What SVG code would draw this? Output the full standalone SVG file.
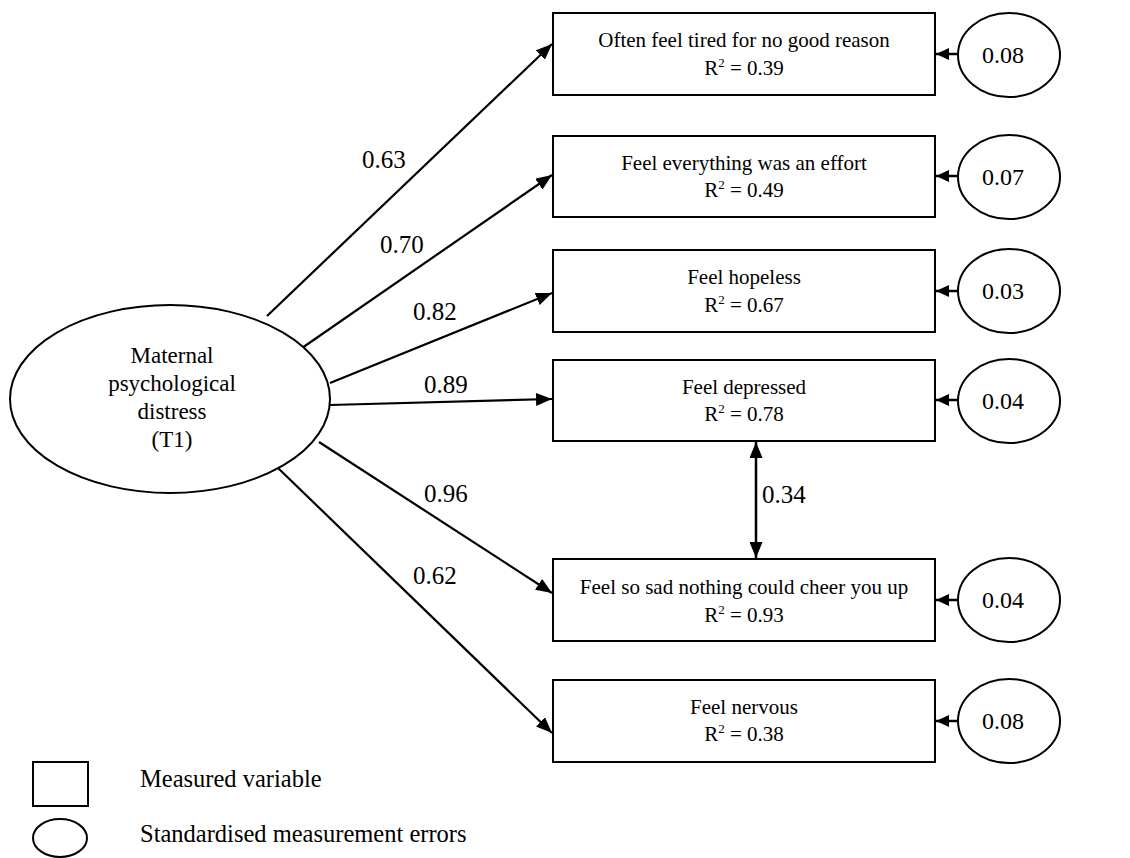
<svg xmlns="http://www.w3.org/2000/svg" width="1130" height="858" viewBox="0 0 1130 858">
  <defs>
    <marker id="arrow" markerUnits="userSpaceOnUse" markerWidth="17" markerHeight="13" refX="16" refY="6.5" orient="auto-start-reverse">
      <path d="M0,0 L16,6.5 L0,13 z" fill="#000"/>
    </marker>
    <marker id="arrowSmall" markerUnits="userSpaceOnUse" markerWidth="14" markerHeight="12" refX="13" refY="6" orient="auto">
      <path d="M0,0 L13,6 L0,12 z" fill="#000"/>
    </marker>
    <style>
      .box { fill: #fff; stroke: #000; stroke-width: 2; }
      .oval { fill: #fff; stroke: #000; stroke-width: 2; }
      .path { stroke: #000; stroke-width: 2.2; fill: none; marker-end: url(#arrow); }
      .err { stroke: #000; stroke-width: 2.5; fill: none; marker-end: url(#arrowSmall); }
      .cov { stroke: #000; stroke-width: 2.5; fill: none; marker-start: url(#arrow); marker-end: url(#arrow); }
      text { font-family: "Liberation Serif", "Times New Roman", serif; fill: #000; }
      .lbl { font-size: 21px; text-anchor: middle; }
      .coef { font-size: 25px; }
      .errv { font-size: 24px; text-anchor: middle; }
      .lat { font-size: 23px; text-anchor: middle; }
      .leg { font-size: 24.5px; }
    </style>
  </defs>

  <!-- Factor loadings, error paths and the residual covariance -->
  <g id="connectors">
    <line class="path" x1="267" y1="316" x2="552" y2="44"/>
    <line class="path" x1="302" y1="348" x2="552" y2="175"/>
    <line class="path" x1="330" y1="383" x2="552" y2="293"/>
    <line class="path" x1="330" y1="405" x2="552" y2="399"/>
    <line class="path" x1="319" y1="442" x2="552" y2="593"/>
    <line class="path" x1="278" y1="468" x2="552" y2="733"/>

    <line class="err" x1="958" y1="54" x2="936" y2="54"/>
    <line class="err" x1="958" y1="176" x2="936" y2="176"/>
    <line class="err" x1="958" y1="291" x2="936" y2="291"/>
    <line class="err" x1="958" y1="400" x2="936" y2="400"/>
    <line class="err" x1="958" y1="600" x2="936" y2="600"/>
    <line class="err" x1="958" y1="721" x2="936" y2="721"/>

    <line class="cov" x1="756" y1="442" x2="756" y2="558"/>

    <text class="coef" x="362" y="168">0.63</text>
    <text class="coef" x="380" y="253">0.70</text>
    <text class="coef" x="413" y="320">0.82</text>
    <text class="coef" x="424" y="393">0.89</text>
    <text class="coef" x="424" y="502">0.96</text>
    <text class="coef" x="413" y="584">0.62</text>
    <text class="coef" x="762" y="503">0.34</text>
  </g>

  <!-- Latent factor -->
  <g id="latent">
    <ellipse class="oval" cx="170" cy="399" rx="160" ry="94"/>
    <text class="lat" x="172" y="363">Maternal</text>
    <text class="lat" x="172" y="391">psychological</text>
    <text class="lat" x="172" y="419">distress</text>
    <text class="lat" x="172" y="447">(T1)</text>
  </g>

  <!-- Measured variables -->
  <g id="item-tired">
    <rect class="box" x="553" y="13" width="382" height="82"/>
    <text class="lbl" x="744" y="47">Often feel tired for no good reason</text>
    <text class="lbl" x="744" y="75">R<tspan dy="-8" font-size="13">2</tspan><tspan dy="8"> = 0.39</tspan></text>
  </g>
  <g id="item-effort">
    <rect class="box" x="553" y="136" width="382" height="81"/>
    <text class="lbl" x="744" y="170">Feel everything was an effort</text>
    <text class="lbl" x="744" y="197">R<tspan dy="-8" font-size="13">2</tspan><tspan dy="8"> = 0.49</tspan></text>
  </g>
  <g id="item-hopeless">
    <rect class="box" x="553" y="250" width="382" height="82"/>
    <text class="lbl" x="744" y="284">Feel hopeless</text>
    <text class="lbl" x="744" y="312">R<tspan dy="-8" font-size="13">2</tspan><tspan dy="8"> = 0.67</tspan></text>
  </g>
  <g id="item-depressed">
    <rect class="box" x="553" y="360" width="382" height="81"/>
    <text class="lbl" x="744" y="394">Feel depressed</text>
    <text class="lbl" x="744" y="421">R<tspan dy="-8" font-size="13">2</tspan><tspan dy="8"> = 0.78</tspan></text>
  </g>
  <g id="item-sad">
    <rect class="box" x="553" y="559" width="382" height="82"/>
    <text class="lbl" x="744" y="594">Feel so sad nothing could cheer you up</text>
    <text class="lbl" x="744" y="622">R<tspan dy="-8" font-size="13">2</tspan><tspan dy="8"> = 0.93</tspan></text>
  </g>
  <g id="item-nervous">
    <rect class="box" x="553" y="680" width="382" height="82"/>
    <text class="lbl" x="744" y="714">Feel nervous</text>
    <text class="lbl" x="744" y="741">R<tspan dy="-8" font-size="13">2</tspan><tspan dy="8"> = 0.38</tspan></text>
  </g>

  <!-- Measurement errors -->
  <g id="err-tired">
    <ellipse class="oval" cx="1009" cy="55" rx="51" ry="42"/>
    <text class="errv" x="1003" y="63">0.08</text>
  </g>
  <g id="err-effort">
    <ellipse class="oval" cx="1009" cy="177" rx="51" ry="42"/>
    <text class="errv" x="1003" y="185">0.07</text>
  </g>
  <g id="err-hopeless">
    <ellipse class="oval" cx="1009" cy="291" rx="51" ry="42"/>
    <text class="errv" x="1003" y="299">0.03</text>
  </g>
  <g id="err-depressed">
    <ellipse class="oval" cx="1009" cy="401" rx="51" ry="42"/>
    <text class="errv" x="1003" y="409">0.04</text>
  </g>
  <g id="err-sad">
    <ellipse class="oval" cx="1009" cy="600" rx="51" ry="42"/>
    <text class="errv" x="1003" y="608">0.04</text>
  </g>
  <g id="err-nervous">
    <ellipse class="oval" cx="1009" cy="721" rx="51" ry="42"/>
    <text class="errv" x="1003" y="729">0.08</text>
  </g>

  <!-- Legend -->
  <g id="legend">
    <rect class="box" x="33" y="762" width="55" height="44"/>
    <ellipse class="oval" cx="60" cy="838" rx="27" ry="19"/>
    <text class="leg" x="140" y="787">Measured variable</text>
    <text class="leg" x="140" y="842">Standardised measurement errors</text>
  </g>
</svg>
